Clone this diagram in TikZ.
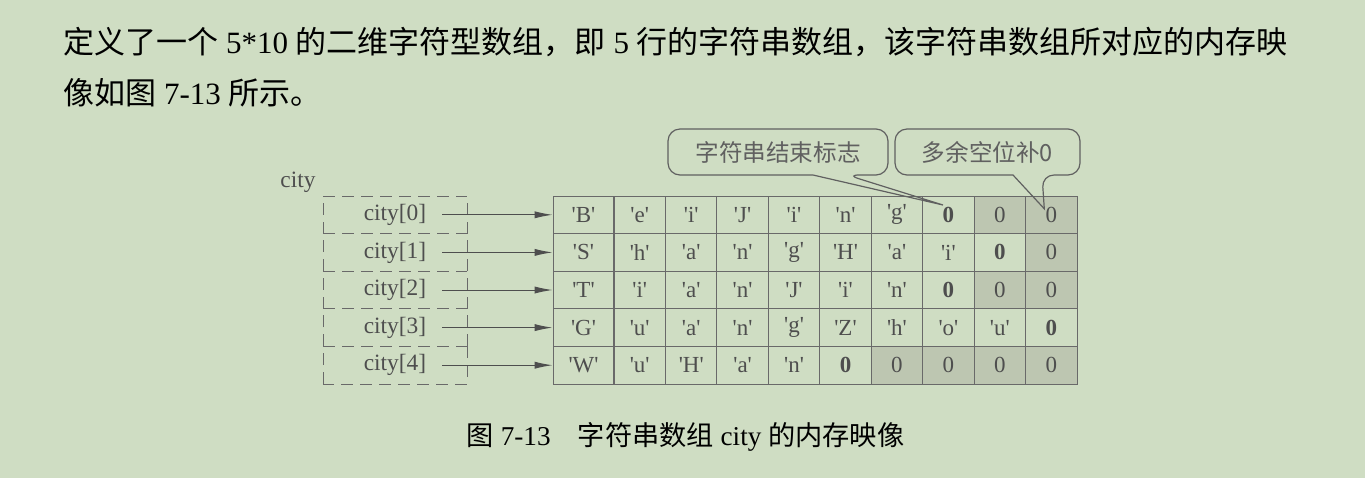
\documentclass[tikz,border=0pt]{standalone}
\usepackage{fontspec}
\setmainfont{Liberation Serif}
\newfontfamily\cjk{Noto Sans CJK SC}
\usetikzlibrary{arrows.meta,calc}
\definecolor{paper}{HTML}{CFDDC3}
\definecolor{shade}{HTML}{BDC6B1}
\definecolor{ink}{HTML}{4E4E4E}
\newcommand{\qc}[1]{\textquotesingle#1\textquotesingle}

\begin{document}
\begin{tikzpicture}[x=0.5pt,y=-0.5pt,
	cell/.style={draw=ink!85,line width=0.5pt,minimum width=25.72pt,minimum height=18.8pt,inner sep=0pt,text=ink,font=\fontsize{11.5}{12}\selectfont},
	wide/.style={minimum width=30.5pt},
	pad/.style={fill=shade},
	slot/.style={minimum width=72pt,minimum height=18.8pt,inner sep=0pt,outer sep=0pt,text=ink,font=\fontsize{11.7}{12}\selectfont},
	dashbox/.style={draw=ink!85,line width=0.5pt,dash pattern=on 6pt off 3.5pt},
	link/.style={draw=ink,line width=0.5pt,-{Latex[length=9pt,width=3.6pt]}},
	note/.style={minimum height=23pt,inner sep=0pt,outer sep=0pt,text=ink!90,font=\cjk\fontsize{11.8}{12}\selectfont},
	bubble/.style={draw=ink!90,line width=0.6pt,rounded corners=6pt},
	head/.style={inner sep=0pt,anchor=west,font=\fontsize{15.5}{16}\selectfont}]
	\useasboundingbox[fill=paper] (0,0) rectangle (1365,478);

	% text above the figure
	\node[head] (line1) at (63,42.5) {{\cjk 定义了一个} 5*10 {\cjk 的二维字符型数组，即} 5 {\cjk 行的字符串数组，该字符串数组所对应的内存映}};
	\node[head] (line2) at (63,93) {{\cjk 像如图} 7-13 {\cjk 所示。}};

	% the pointers city[0..4]
	\node[text=ink,font=\fontsize{11.7}{12}\selectfont] (arr) at (298,182) {city};
	\node[slot] (p0) at (395,214.8) {city[0]};
	\node[slot] (p1) at (395,252.4) {city[1]};
	\node[slot] (p2) at (395,290.0) {city[2]};
	\node[slot] (p3) at (395,327.6) {city[3]};
	\node[slot] (p4) at (395,365.2) {city[4]};
	\draw[dashbox] (p0.south west) -- (p0.north west) -- (p0.north east); \draw[dashbox] (p0.south east) -- (p0.north east);
	\draw[dashbox] (p1.south west) -- (p1.north west) -- (p1.north east); \draw[dashbox] (p1.south east) -- (p1.north east);
	\draw[dashbox] (p2.south west) -- (p2.north west) -- (p2.north east); \draw[dashbox] (p2.south east) -- (p2.north east);
	\draw[dashbox] (p3.south west) -- (p3.north west) -- (p3.north east); \draw[dashbox] (p3.south east) -- (p3.north east);
	\draw[dashbox] (p4.south west) -- (p4.north west) -- (p4.north east); \draw[dashbox] (p4.north east) -- (p4.south east) -- (p4.south west);

	% the 5*10 array
	\node[cell,wide] (c00) at (583.5,214.8) {\qc{B}}; \node[cell] (c01) at (639.7,214.8) {\qc{e}}; \node[cell] (c02) at (691.2,214.8) {\qc{i}}; \node[cell] (c03) at (742.6,214.8) {\qc{J}}; \node[cell] (c04) at (794.0,214.8) {\qc{i}}; \node[cell] (c05) at (845.5,214.8) {\qc{n}}; \node[cell] (c06) at (896.9,214.8) {\qc{g}}; \node[cell] (c07) at (948.4,214.8) {\textbf{0}}; \node[cell,pad] (c08) at (999.8,214.8) {0}; \node[cell,pad] (c09) at (1051.3,214.8) {0};
	\node[cell,wide] (c10) at (583.5,252.4) {\qc{S}}; \node[cell] (c11) at (639.7,252.4) {\qc{h}}; \node[cell] (c12) at (691.2,252.4) {\qc{a}}; \node[cell] (c13) at (742.6,252.4) {\qc{n}}; \node[cell] (c14) at (794.0,252.4) {\qc{g}}; \node[cell] (c15) at (845.5,252.4) {\qc{H}}; \node[cell] (c16) at (896.9,252.4) {\qc{a}}; \node[cell] (c17) at (948.4,252.4) {\qc{i}}; \node[cell] (c18) at (999.8,252.4) {\textbf{0}}; \node[cell,pad] (c19) at (1051.3,252.4) {0};
	\node[cell,wide] (c20) at (583.5,290.0) {\qc{T}}; \node[cell] (c21) at (639.7,290.0) {\qc{i}}; \node[cell] (c22) at (691.2,290.0) {\qc{a}}; \node[cell] (c23) at (742.6,290.0) {\qc{n}}; \node[cell] (c24) at (794.0,290.0) {\qc{J}}; \node[cell] (c25) at (845.5,290.0) {\qc{i}}; \node[cell] (c26) at (896.9,290.0) {\qc{n}}; \node[cell] (c27) at (948.4,290.0) {\textbf{0}}; \node[cell,pad] (c28) at (999.8,290.0) {0}; \node[cell,pad] (c29) at (1051.3,290.0) {0};
	\node[cell,wide] (c30) at (583.5,327.6) {\qc{G}}; \node[cell] (c31) at (639.7,327.6) {\qc{u}}; \node[cell] (c32) at (691.2,327.6) {\qc{a}}; \node[cell] (c33) at (742.6,327.6) {\qc{n}}; \node[cell] (c34) at (794.0,327.6) {\qc{g}}; \node[cell] (c35) at (845.5,327.6) {\qc{Z}}; \node[cell] (c36) at (896.9,327.6) {\qc{h}}; \node[cell] (c37) at (948.4,327.6) {\qc{o}}; \node[cell] (c38) at (999.8,327.6) {\qc{u}}; \node[cell] (c39) at (1051.3,327.6) {\textbf{0}};
	\node[cell,wide] (c40) at (583.5,365.2) {\qc{W}}; \node[cell] (c41) at (639.7,365.2) {\qc{u}}; \node[cell] (c42) at (691.2,365.2) {\qc{H}}; \node[cell] (c43) at (742.6,365.2) {\qc{a}}; \node[cell] (c44) at (794.0,365.2) {\qc{n}}; \node[cell] (c45) at (845.5,365.2) {\textbf{0}}; \node[cell,pad] (c46) at (896.9,365.2) {0}; \node[cell,pad] (c47) at (948.4,365.2) {0}; \node[cell,pad] (c48) at (999.8,365.2) {0}; \node[cell,pad] (c49) at (1051.3,365.2) {0};

	\draw[link] ([xshift=-12.5pt]p0.east) -- (c00.west);
	\draw[link] ([xshift=-12.5pt]p1.east) -- (c10.west);
	\draw[link] ([xshift=-12.5pt]p2.east) -- (c20.west);
	\draw[link] ([xshift=-12.5pt]p3.east) -- (c30.west);
	\draw[link] ([xshift=-12.5pt]p4.east) -- (c40.west);

	% the two callouts
	\node[note,minimum width=110pt] (endnote) at (778,152) {字符串结束标志};
	\node[note,minimum width=92.5pt] (padnote) at (987.5,152) {多余空位补0};
	\coordinate (endtip) at ($(c07.center)+(-5.4,-9.8)$);
	\coordinate (padtip) at ($(c09.center)+(-7,-6)$);
	\draw[bubble] (endnote.west) |- (endnote.north east) |- ($(endnote.south)+(69,0)$) [sharp corners] -- (endtip) -- ($(endnote.south)+(35,0)$) [rounded corners=6pt] -| (endnote.west);
	\draw[bubble] (padnote.west) |- (padnote.north east) |- ($(padnote.south)+(54.5,0)$) [sharp corners] -- (padtip) -- ($(padnote.south)+(25.5,0)$) [rounded corners=6pt] -| (padnote.west);

	% caption
	\node[inner sep=0pt,font=\fontsize{13.6}{14}\selectfont] (caption) at (685.5,437) {{\cjk 图} 7-13\quad{\cjk 字符串数组} city {\cjk 的内存映像}};
\end{tikzpicture}
\end{document}
